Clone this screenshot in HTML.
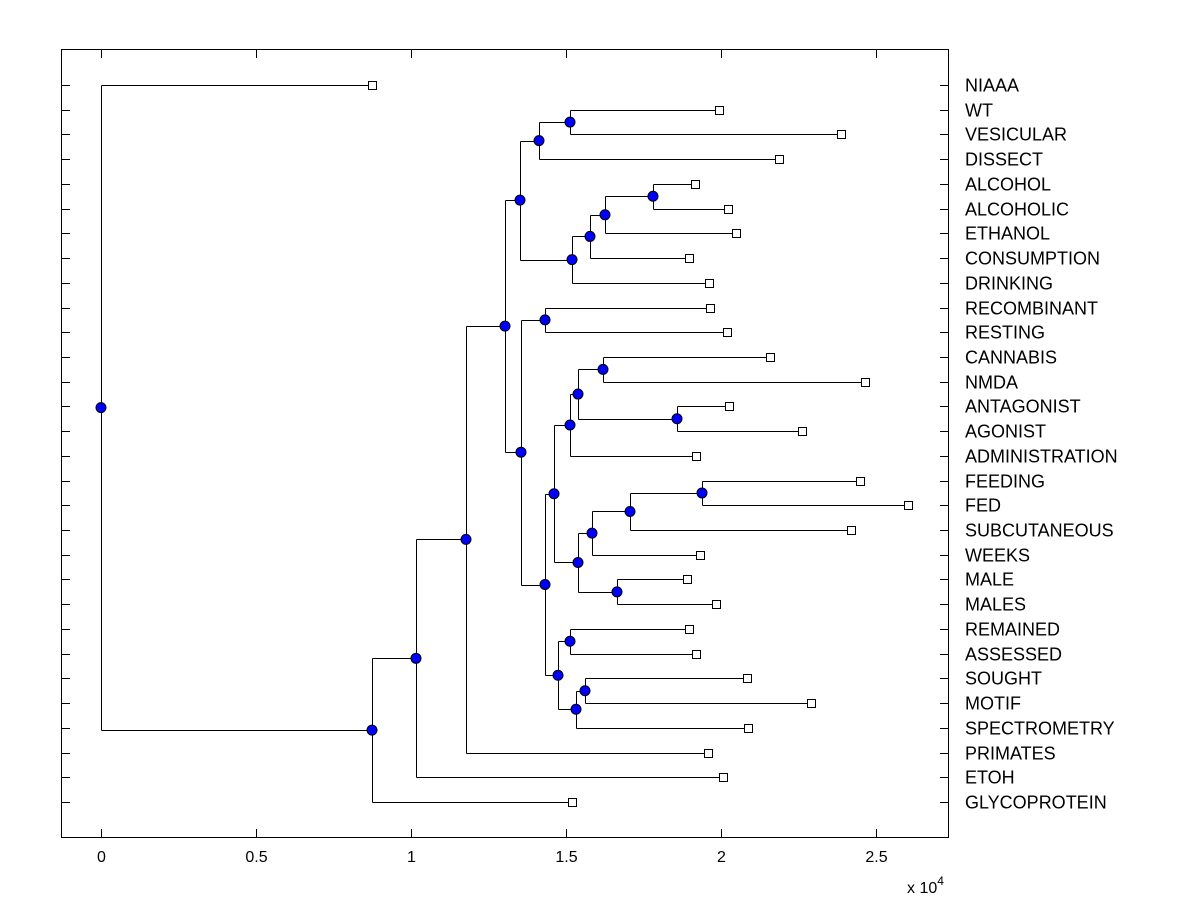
<!DOCTYPE html>
<html><head><meta charset="utf-8"><style>
html,body{margin:0;padding:0;background:#fff;}
svg{display:block;font-family:"Liberation Sans",Arial,sans-serif;}
</style></head><body>
<svg id="chart" width="1200" height="900">
<rect x="0" y="0" width="1200" height="900" fill="#fff"/>
<rect x="61.5" y="49.5" width="887" height="788" fill="#fff" stroke="#000" stroke-width="1"/>
<g id="g-ticks"></g><g id="g-lines"></g><g id="g-marks"></g><g id="g-labels"></g>
</svg>
<script>
const leafNames=["NIAAA","WT","VESICULAR","DISSECT","ALCOHOL","ALCOHOLIC","ETHANOL","CONSUMPTION","DRINKING","RECOMBINANT","RESTING","CANNABIS","NMDA","ANTAGONIST","AGONIST","ADMINISTRATION","FEEDING","FED","SUBCUTANEOUS","WEEKS","MALE","MALES","REMAINED","ASSESSED","SOUGHT","MOTIF","SPECTROMETRY","PRIMATES","ETOH","GLYCOPROTEIN"];
const leafValues=[8742,19935,23871,21871,19161,20226,20484,18968,19613,19645,20194,21581,24645,20258,22613,19194,24484,26032,24194,19323,18903,19839,18968,19194,20839,22903,20871,19581,20065,15194];
const mergeChildA=["L1","N0","L4","N2","N3","N4","N1","L9","L11","L13","N8","N10","L16","N12","N13","L20","N14","N11","L22","L24","N19","N18","N17","N7","N6","N24","N25","N26","L0"];
const mergeChildB=["L2","L3","L5","L6","L7","L8","N5","L10","L12","L14","N9","L15","L17","L18","L19","L21","N15","N16","L23","L25","L26","N20","N21","N22","N23","L27","L28","L29","N27"];
const mergeValues=[15129,14129,17806,16258,15774,15194,13516,14323,16193,18581,15387,15129,19387,17065,15839,16645,15387,14613,15129,15613,15323,14742,14323,13548,13032,11774,10161,8742,0];
const xTicks=[0,5000,10000,15000,20000,25000];
const xTickLabels=["0","0.5","1","1.5","2","2.5"];

const NS="http://www.w3.org/2000/svg";
const X0=101, XS=310/10000, Y0=85, YS=(802-85)/29;
const xs=v=>X0+v*XS, ys=i=>Y0+i*YS;
function mk(tag,attrs,parent){const e=document.createElementNS(NS,tag);for(const k in attrs)e.setAttribute(k,attrs[k]);document.getElementById(parent).appendChild(e);return e;}

xTicks.forEach((t,i)=>{
  const x=Math.round(xs(t))+0.5;
  let l=mk('line',{x1:x,x2:x,y1:837,y2:829,stroke:'#000'},'g-ticks');
  
  
  l=mk('line',{x1:x,x2:x,y1:50,y2:58,stroke:'#000'},'g-ticks');
  
  
  const tx=mk('text',{x:x,y:862,'font-size':16,'text-anchor':'middle'},'g-ticks');
  tx.textContent=xTickLabels[i];
  
  
});
const ex=mk('text',{x:907,y:893,'font-size':16},'g-ticks');
ex.innerHTML='x 10<tspan dy="-8" font-size="12">4</tspan>';



leafNames.forEach((n,i)=>{
  const y=Math.round(ys(i))+0.5;
  let l=mk('line',{x1:62,x2:70,y1:y,y2:y,stroke:'#000'},'g-ticks');
  
  
  l=mk('line',{x1:940,x2:948,y1:y,y2:y,stroke:'#000'},'g-ticks');
  
  
  const t=mk('text',{x:965,y:y+6,'font-size':18},'g-labels');
  t.textContent=n;
  
  
});

const nodes=[];
function get(id){const k=parseInt(id.slice(1));if(id[0]==='L')return{x:leafValues[k],y:k};return nodes[k];}
mergeValues.forEach((v,j)=>{const a=get(mergeChildA[j]),b=get(mergeChildB[j]);nodes.push({x:v,y:(a.y+b.y)/2,a:a,b:b});});
nodes.forEach(nd=>{
  const x=Math.round(xs(nd.x))+0.5;
  const ya=Math.round(ys(nd.a.y))+0.5, yb=Math.round(ys(nd.b.y))+0.5;
  const p=mk('path',{d:`M${x},${ya}V${yb}M${x},${ya}H${xs(nd.a.x)}M${x},${yb}H${xs(nd.b.x)}`,stroke:'#000','stroke-width':1,fill:'none'},'g-lines');
  
  
});
leafValues.forEach((v,i)=>{
  const r=mk('rect',{x:Math.round(xs(v))-3.5,y:Math.round(ys(i))-3.5,width:8,height:8,fill:'#fff',stroke:'#000'},'g-marks');
  
  
});
nodes.forEach(nd=>{
  const c=mk('circle',{cx:xs(nd.x),cy:ys(nd.y),r:5,fill:'#0000ff',stroke:'#000','stroke-width':1},'g-marks');
  
  
});
</script>
</body></html>
